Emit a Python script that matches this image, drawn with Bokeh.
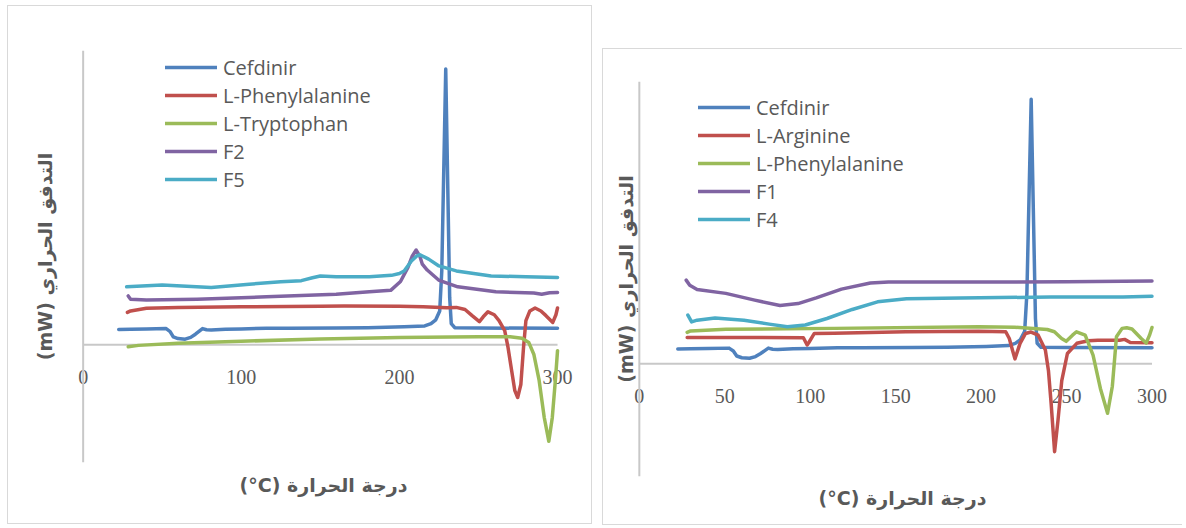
from bokeh.plotting import figure
from bokeh.models import Legend, LegendItem, Spacer, LabelSet, ColumnDataSource, Span
from bokeh.layouts import row, column
from bokeh.embed import file_html
from bokeh.resources import INLINE

# ---------------- data (temperature °C, heat flow mW) ----------------
cefdinir_t = [22.5, 30, 40, 52.5, 55, 57, 60, 64.5, 68, 71, 75.5, 78, 81, 90, 100, 116, 130, 160,
              180, 203, 216, 220, 223, 225.5, 226.8, 229.3, 231.8, 232.8, 235, 250, 300]
cefdinir_y = [0.52, 0.53, 0.54, 0.55, 0.45, 0.27, 0.21, 0.19, 0.25, 0.36, 0.55, 0.51, 0.50, 0.53,
              0.54, 0.56, 0.56, 0.57, 0.58, 0.61, 0.64, 0.72, 0.85, 1.15, 2.5, 9.37, 1.6, 0.72,
              0.58, 0.57, 0.56]

# left chart
phe_a_t = [28, 30, 40, 60, 100, 150, 165, 200, 215, 230, 236, 241.5, 246, 250.6, 253, 256, 260,
           263, 266.6, 268.7, 271, 273, 274.8, 276.8, 278.5, 280, 282.5, 285.8, 289.5, 292.7,
           297, 299, 300]
phe_a_y = [1.10, 1.15, 1.24, 1.27, 1.29, 1.31, 1.32, 1.31, 1.29, 1.26, 1.27, 1.20, 0.99, 0.79,
           0.95, 1.12, 1.02, 0.82, 0.48, -0.09, -0.88, -1.56, -1.79, -1.35, -0.09, 0.82, 1.15,
           1.25, 1.15, 0.99, 0.76, 1.02, 1.25]
trp_t = [28.5, 35, 60, 100, 150, 200, 250, 270, 277.5, 281.8, 285, 288.4, 291.6, 294.5, 296.7,
         298.8, 300]
trp_y = [-0.07, -0.02, 0.05, 0.12, 0.20, 0.25, 0.27, 0.27, 0.22, 0.08, -0.32, -1.22, -2.47,
         -3.28, -2.47, -1.10, -0.2]
f2_t = [28.5, 30, 40, 72, 116, 160, 181, 194.5, 200.7, 205.4, 208, 210.6, 213, 214.5, 217.6,
        224.8, 236.9, 261, 285, 290, 295, 300]
f2_y = [1.66, 1.55, 1.52, 1.55, 1.63, 1.72, 1.80, 1.85, 2.15, 2.63, 3.0, 3.22, 3.0, 2.74, 2.54,
        2.20, 1.97, 1.80, 1.76, 1.72, 1.77, 1.78]
f5_t = [27.5, 50, 81, 105, 125, 138, 145, 150, 160, 181, 195, 200, 203, 207.6, 211, 213, 218.5,
        225, 236, 258, 280, 300]
f5_y = [1.97, 2.03, 1.95, 2.06, 2.14, 2.18, 2.28, 2.34, 2.31, 2.31, 2.36, 2.42, 2.51, 2.85, 3.02,
        3.06, 2.91, 2.68, 2.51, 2.34, 2.31, 2.29]

# right chart
arg_t = [28, 50, 96, 98.2, 99.2, 102.4, 114, 156, 198.5, 214.4, 216.5, 218.5, 219.8, 222.8, 226,
         229.2, 233.4, 237.6, 239.4, 241, 243, 245, 247.2, 250.5, 256, 262.7, 268.3, 281, 284,
         287.3, 300]
arg_y = [0.93, 0.93, 0.92, 0.66, 0.75, 1.07, 1.08, 1.13, 1.15, 1.13, 0.89, 0.45, 0.17, 0.72, 1.07,
         1.12, 1.01, 0.48, -0.24, -1.43, -3.12, -2.0, -0.6, 0.36, 0.72, 0.81, 0.83, 0.83, 0.86,
         0.75, 0.74]
phe_b_t = [28, 30, 50.6, 114, 198.5, 219.7, 238.7, 242.9, 247.1, 249.8, 253.5, 255.8, 260.9,
           265.5, 269.8, 274, 276.8, 279.2, 282.5, 285.2, 288.3, 293.7, 296.6, 298.5, 300]
phe_b_y = [1.11, 1.16, 1.22, 1.25, 1.31, 1.29, 1.21, 1.13, 0.89, 0.79, 1.01, 1.13, 1.01, 0.30,
           -0.88, -1.76, -0.8, 0.95, 1.25, 1.27, 1.23, 0.89, 0.73, 1.0, 1.28]
f1_t = [27.4, 29.5, 33.8, 50.6, 67.5, 82.3, 92.9, 103.5, 118.3, 135.2, 145.8, 198.5, 250, 300]
f1_y = [2.96, 2.78, 2.63, 2.49, 2.25, 2.06, 2.13, 2.33, 2.64, 2.86, 2.89, 2.89, 2.90, 2.93]
f4_t = [28.4, 30.6, 33.8, 44.3, 61.2, 76, 86.6, 97.1, 109.8, 124.6, 139.4, 156.3, 188, 240.8,
        283, 300]
f4_y = [1.72, 1.48, 1.54, 1.62, 1.54, 1.40, 1.31, 1.37, 1.60, 1.92, 2.19, 2.30, 2.33, 2.36, 2.36,
        2.39]

left_names = ["Cefdinir", "L-Phenylalanine", "L-Tryptophan", "F2", "F5"]
right_names = ["Cefdinir", "L-Arginine", "L-Phenylalanine", "F1", "F4"]
left_ticks = [0, 100, 200, 300]
right_ticks = [0, 50, 100, 150, 200, 250, 300]
colors = ["#4F81BD", "#C0504D", "#9BBB59", "#8064A2", "#4BACC6"]

x_title = "(°C) درجة الحرارة"
y_title = "(mW) التدفق الحراري"

GRAY_TEXT = "#595959"
AXIS_GRAY = "#c8c8c8"
BOX_GRAY = "#d9d9d9"


def make_panel(width, height, x_range, borders, ticks, series, names, legend_loc, ylab_standoff,
               xlab_standoff, styles):
    bl, br, bt, bb = borders
    p = figure(width=width, height=height, x_range=x_range, y_range=(-4, 10),
               output_backend="svg", toolbar_location=None,
               min_border_left=bl, min_border_right=br, min_border_top=bt, min_border_bottom=bb,
               styles=styles)
    p.outline_line_color = None
    p.xgrid.visible = False
    p.ygrid.visible = False
    p.background_fill_color = "white"
    p.border_fill_color = "white"

    for ax in (p.xaxis[0], p.yaxis[0]):
        ax.ticker = []
        ax.major_tick_out = 0
        ax.major_tick_in = 0
        ax.minor_tick_out = 0
        ax.minor_tick_in = 0
        ax.major_label_standoff = 0
        ax.axis_line_color = None
        ax.axis_label_text_font = "DejaVu Sans"
        ax.axis_label_text_font_style = "bold"
        ax.axis_label_text_font_size = "19px"
        ax.axis_label_text_color = GRAY_TEXT
    p.xaxis.axis_label = x_title
    p.xaxis.axis_label_standoff = xlab_standoff
    p.yaxis.axis_label = y_title
    p.yaxis.axis_label_standoff = ylab_standoff

    # vertical axis line at temperature 0, like the spreadsheet chart
    p.add_layout(Span(location=ticks[0], dimension="height", line_color=AXIS_GRAY, line_width=2))
    # horizontal axis line at zero heat flow, from first to last tick
    p.segment(x0=[ticks[0]], y0=[0], x1=[ticks[-1]], y1=[0],
              line_color=AXIS_GRAY, line_width=2)

    tick_src = ColumnDataSource(dict(x=ticks, y=[0] * len(ticks),
                                     text=[str(t) for t in ticks]))
    p.add_layout(LabelSet(x="x", y="y", text="text", source=tick_src, level="underlay",
                          text_font="Open Sans", text_font_size="20px", text_color=GRAY_TEXT,
                          text_align="center", text_baseline="middle", y_offset=-32))

    items = []
    for (t, y), name, c in zip(series, names, colors):
        r = p.line(t, y, line_color=c, line_width=3.5, line_join="round", line_cap="round")
        items.append(LegendItem(label=name, renderers=[r]))

    legend = Legend(items=items, location=legend_loc, padding=0, margin=0, spacing=0,
                    glyph_width=52, glyph_height=28, label_height=28, label_standoff=6,
                    label_text_font="Open Sans", label_text_font_size="20px",
                    label_text_color=GRAY_TEXT, border_line_color=None,
                    background_fill_alpha=0)
    p.add_layout(legend)
    return p


left = make_panel(
    585, 519, (-8, 312), (62, 17, 44, 63), left_ticks,
    [(cefdinir_t, cefdinir_y), (phe_a_t, phe_a_y), (trp_t, trp_y), (f2_t, f2_y), (f5_t, f5_y)],
    left_names, (95, 269), 15, 11,
    {"border": "1px solid " + BOX_GRAY})

right = make_panel(
    580, 477, (-4, 312), (29, 11, 32, 50), right_ticks,
    [(cefdinir_t, cefdinir_y), (arg_t, arg_y), (phe_b_t, phe_b_y), (f1_t, f1_y), (f4_t, f4_y)],
    right_names, (66, 243), -4, 10,
    {"border-left": "1px solid " + BOX_GRAY, "border-top": "1px solid " + BOX_GRAY,
     "border-bottom": "1px solid " + BOX_GRAY})

layout = row(Spacer(width=7), column(Spacer(height=5), left), Spacer(width=10),
             column(Spacer(height=48), right))

open("out.html", "w").write(file_html(layout, INLINE))
